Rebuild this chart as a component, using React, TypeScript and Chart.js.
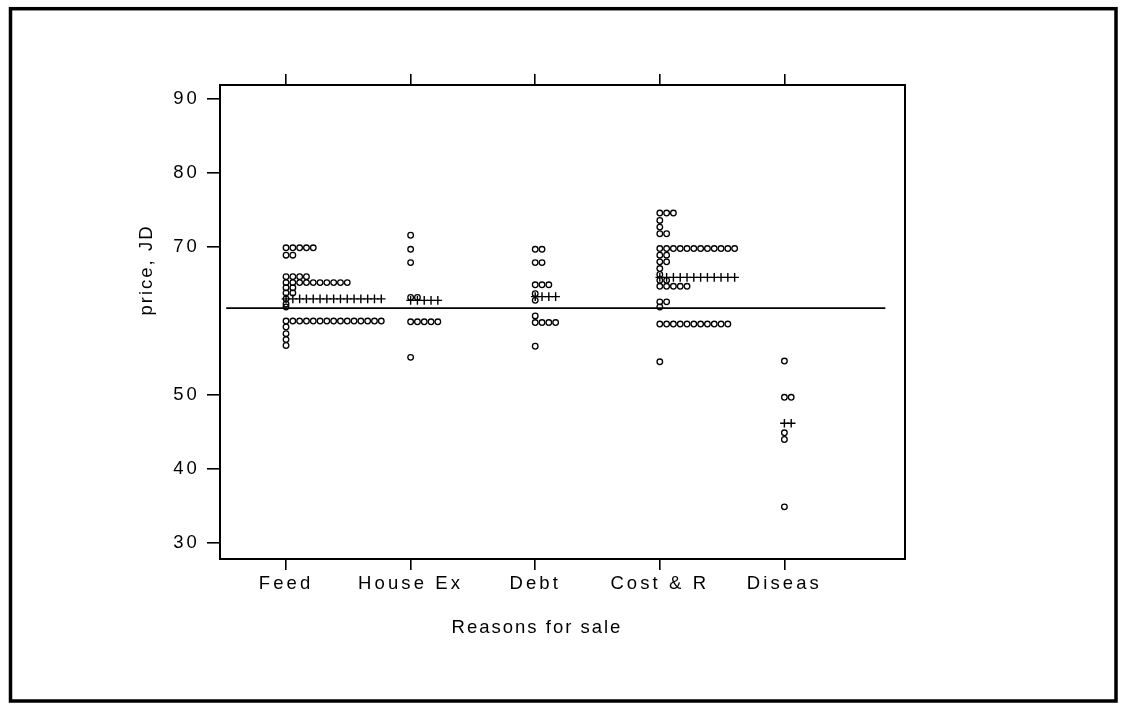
import React, { useEffect, useRef } from 'react';
import { Chart, registerables } from 'chart.js';

Chart.register(...registerables);

const CATEGORIES = ['Feed', 'House Ex', 'Debt', 'Cost & R', 'Diseas'];
const Y_TICKS = [30, 40, 50, 70, 80, 90];

// [price in JD, number of sales at that price]
const FEED_PRICES: [number, number][] = [
  [69.9, 5], [68.9, 2], [66.0, 4], [65.2, 10], [64.5, 2], [63.8, 2], [63.0, 1],
  [62.3, 1], [61.9, 1], [60.0, 15], [59.2, 1], [58.3, 1], [57.5, 1], [56.7, 1],
];
const HOUSE_EX_PRICES: [number, number][] = [
  [71.6, 1], [69.7, 1], [67.9, 1], [63.2, 2], [59.9, 5], [55.1, 1],
];
const DEBT_PRICES: [number, number][] = [
  [69.7, 2], [67.9, 2], [64.9, 3], [63.7, 1], [62.8, 1], [60.7, 1], [59.8, 4], [56.6, 1],
];
const COST_R_PRICES: [number, number][] = [
  [74.6, 3], [73.6, 1], [72.7, 1], [71.8, 2], [69.8, 12], [68.9, 2], [68.0, 2], [67.1, 1],
  [66.3, 1], [65.5, 2], [64.7, 5], [62.6, 2], [61.9, 1], [59.6, 11], [54.5, 1],
];
const DISEAS_PRICES: [number, number][] = [
  [54.6, 1], [49.7, 2], [44.9, 1], [44.0, 1], [34.9, 1],
];

// group means (shown as rows of "+") and how many marks are drawn
const GROUP_MEANS = [63.0, 62.8, 63.3, 65.9, 46.2];
const MEAN_MARKS = [15, 5, 4, 12, 2];
// overall reference line
const REFERENCE_LINE = 61.75;
const REFERENCE_SPAN = [0.52, 5.81];

const GROUPS = [FEED_PRICES, HOUSE_EX_PRICES, DEBT_PRICES, COST_R_PRICES, DISEAS_PRICES];

const DOT_STEP = 0.0546; // horizontal stacking step in category units
const FONT = '"Liberation Sans", Arial, Helvetica, sans-serif';
const TICK_SPACING = '3.1px';
const TITLE_SPACING = '2px';

export default function App() {
  const canvasRef = useRef<HTMLCanvasElement | null>(null);

  useEffect(() => {
    const canvas = canvasRef.current;
    if (!canvas) return;

    const dots: { x: number; y: number }[] = [];
    GROUPS.forEach((g, i) => {
      g.forEach(([v, n]) => {
        for (let j = 0; j < n; j++) dots.push({ x: i + 1 + j * DOT_STEP, y: v });
      });
    });
    const means: { x: number; y: number }[] = [];
    GROUP_MEANS.forEach((m, i) => {
      for (let j = 0; j < MEAN_MARKS[i]; j++) means.push({ x: i + 1 + j * DOT_STEP, y: m });
    });

    const catTicks = (s: any) => {
      s.ticks = CATEGORIES.map((_, i) => ({ value: i + 1 }));
    };
    const yTicks = (s: any) => {
      s.ticks = Y_TICKS.map((v) => ({ value: v }));
    };

    const xMin = 0.47;
    const xMax = 5.968;
    const yMin = 27.85;
    const yMax = 91.9;

    const textPlugin = {
      id: 'texts',
      beforeDraw(chart: any) {
        (chart.ctx as any).letterSpacing = TICK_SPACING;
      },
      afterDraw(chart: any) {
        const ctx = chart.ctx as any;
        ctx.save();
        ctx.fillStyle = '#000';
        ctx.strokeStyle = '#000';
        ctx.lineWidth = 3.5;
        ctx.strokeRect(10.5, 8.7, 1105.5, 692.3);
        ctx.font = `18.5px ${FONT}`;
        ctx.letterSpacing = TITLE_SPACING;
        ctx.textAlign = 'center';
        ctx.textBaseline = 'middle';
        ctx.fillText('Reasons for sale', 537, 628);
        ctx.translate(147, 270);
        ctx.rotate(-Math.PI / 2);
        ctx.fillText('price, JD', 0, 0);
        ctx.restore();
      },
    };

    const gridOpts = (len: number) => ({
      display: true,
      drawOnChartArea: false,
      drawTicks: true,
      tickLength: len,
      color: '#000',
      lineWidth: 1.6,
    });
    const border = { display: true, color: '#000', width: 2 };

    const chart = new Chart(canvas, {
      type: 'scatter',
      data: {
        datasets: [
          {
            label: 'price',
            data: dots,
            pointStyle: 'circle',
            pointRadius: 2.8,
            pointBorderWidth: 1.3,
            borderColor: '#000',
            backgroundColor: 'rgba(0,0,0,0)',
          },
          {
            label: 'mean',
            data: means,
            pointStyle: 'cross',
            pointRadius: 4.3,
            pointBorderWidth: 1.4,
            borderColor: '#000',
            backgroundColor: '#000',
          },
          {
            label: 'reference',
            type: 'line',
            data: REFERENCE_SPAN.map((x) => ({ x, y: REFERENCE_LINE })),
            showLine: true,
            pointRadius: 0,
            borderWidth: 1.6,
            borderColor: '#000',
            fill: false,
          } as any,
        ],
      },
      options: {
        responsive: false,
        animation: false,
        events: [],
        layout: { padding: 0 },
        plugins: {
          legend: { display: false },
          tooltip: { enabled: false },
        },
        scales: {
          x: {
            type: 'linear',
            position: 'bottom',
            min: xMin,
            max: xMax,
            afterBuildTicks: catTicks,
            afterFit: (s: any) => {
              s.height = 159;
            },
            ticks: {
              autoSkip: false,
              maxRotation: 0,
              padding: 3,
              color: '#000',
              font: { family: FONT, size: 18.5 },
              callback: (v: any) => CATEGORIES[Math.round(Number(v)) - 1] ?? '',
            },
            grid: gridOpts(11),
            border,
          },
          x2: {
            type: 'linear',
            position: 'top',
            min: xMin,
            max: xMax,
            afterBuildTicks: catTicks,
            afterFit: (s: any) => {
              s.height = 85;
            },
            ticks: { display: false },
            grid: gridOpts(11),
            border,
          },
          y: {
            type: 'linear',
            position: 'left',
            min: yMin,
            max: yMax,
            afterBuildTicks: yTicks,
            afterFit: (s: any) => {
              s.width = 220;
            },
            ticks: {
              autoSkip: false,
              padding: 7,
              color: '#000',
              font: { family: FONT, size: 18.5 },
            },
            grid: gridOpts(13),
            border,
          },
          y2: {
            type: 'linear',
            position: 'right',
            min: yMin,
            max: yMax,
            afterFit: (s: any) => {
              s.width = 216;
            },
            ticks: { display: false },
            grid: { display: false, drawTicks: false },
            border,
          },
        },
      } as any,
      plugins: [textPlugin],
    });

    return () => chart.destroy();
  }, []);

  return (
    <div style={{ position: 'absolute', left: 0, top: 0, width: 1121, height: 718, background: '#fff' }}>
      <canvas ref={canvasRef} width={1121} height={718} style={{ display: 'block' }} />
    </div>
  );
}
